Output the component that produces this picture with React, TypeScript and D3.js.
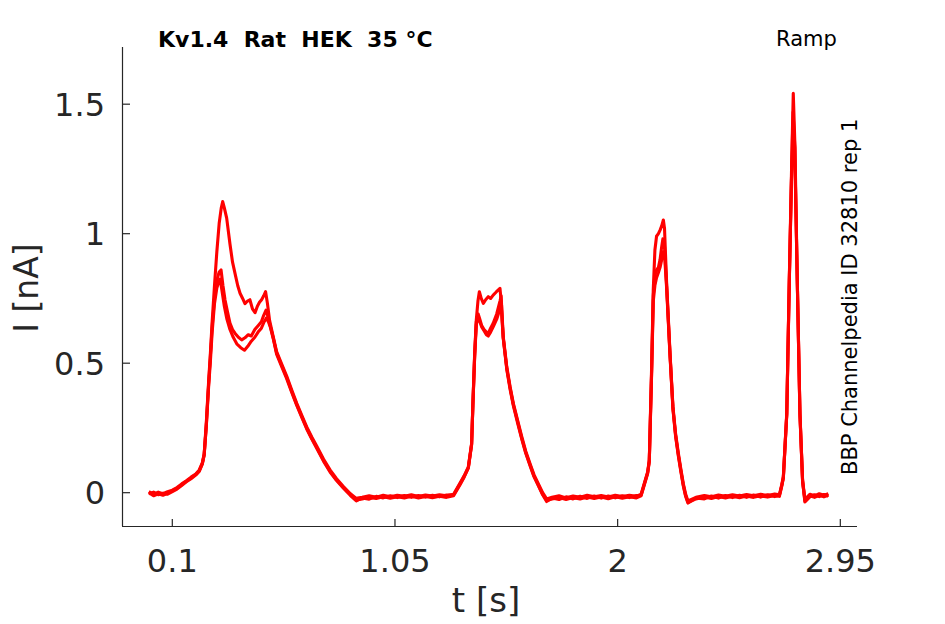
import React from "react";
import * as d3 from "d3";

type Pt = [number, number];

const xTicks = [0.1, 1.05, 2, 2.95];
const xTickLabels = ["0.1", "1.05", "2", "2.95"];
const yTicks = [0, 0.5, 1, 1.5];
const yTickLabels = ["0", "0.5", "1", "1.5"];

const titleText = "Kv1.4  Rat  HEK  35 °C";
const protocolText = "Ramp";
const sideText = "BBP Channelpedia ID 32810 rep 1";
const xLabel = "t [s]";
const yLabel = "I [nA]";

// sweep 1 (largest first peak)
const traceA: Pt[] = [
  [0.0, 0.004], [0.02, -0.006], [0.04, 0.002], [0.06, -0.004], [0.08, 0.004], [0.1, 0.01],
  [0.12, 0.02], [0.14, 0.034], [0.16, 0.046], [0.18, 0.06], [0.2, 0.072], [0.215, 0.088],
  [0.228, 0.115], [0.236, 0.15], [0.245, 0.27], [0.255, 0.43], [0.262, 0.53], [0.27, 0.66],
  [0.28, 0.8], [0.29, 0.93], [0.3, 1.04], [0.309, 1.1], [0.315, 1.124], [0.322, 1.1],
  [0.332, 1.06], [0.346, 0.96], [0.357, 0.89], [0.368, 0.845], [0.379, 0.8], [0.389, 0.77],
  [0.4, 0.75], [0.41, 0.73], [0.421, 0.74], [0.431, 0.745], [0.442, 0.71], [0.453, 0.695],
  [0.463, 0.72], [0.472, 0.735], [0.481, 0.745], [0.49, 0.76], [0.498, 0.776], [0.506, 0.73],
  [0.515, 0.665], [0.53, 0.605], [0.545, 0.545], [0.565, 0.5], [0.588, 0.45], [0.61, 0.395],
  [0.631, 0.345], [0.652, 0.3], [0.673, 0.255], [0.695, 0.215], [0.716, 0.18], [0.745, 0.13],
  [0.773, 0.088], [0.8, 0.055], [0.83, 0.024], [0.86, -0.004], [0.885, -0.022], [0.91, -0.018],
  [0.94, -0.012], [0.97, -0.018], [1.0, -0.01], [1.03, -0.016], [1.06, -0.01], [1.09, -0.014],
  [1.12, -0.008], [1.15, -0.015], [1.18, -0.009], [1.21, -0.013], [1.24, -0.008], [1.27, -0.012],
  [1.3, -0.006], [1.327, 0.036], [1.345, 0.065], [1.363, 0.1], [1.377, 0.19], [1.3825, 0.345],
  [1.39, 0.538], [1.397, 0.667], [1.404, 0.74], [1.41, 0.776], [1.418, 0.75], [1.427, 0.731],
  [1.437, 0.745], [1.448, 0.757], [1.458, 0.75], [1.469, 0.763], [1.482, 0.775], [1.498, 0.789],
  [1.505, 0.72], [1.512, 0.602], [1.527, 0.486], [1.541, 0.41], [1.555, 0.345], [1.573, 0.28],
  [1.591, 0.216], [1.608, 0.16], [1.626, 0.113], [1.643, 0.07], [1.661, 0.036], [1.68, 0.0],
  [1.697, -0.024], [1.72, -0.018], [1.75, -0.012], [1.78, -0.02], [1.81, -0.013], [1.84, -0.018],
  [1.87, -0.01], [1.9, -0.016], [1.93, -0.011], [1.96, -0.017], [1.99, -0.01], [2.02, -0.015],
  [2.05, -0.01], [2.08, -0.014], [2.1, -0.006], [2.118, 0.049], [2.128, 0.08], [2.135, 0.126],
  [2.145, 0.486], [2.152, 0.783], [2.159, 0.937], [2.166, 0.99], [2.174, 1.0], [2.181, 1.014],
  [2.188, 1.03], [2.195, 1.053], [2.2, 1.02], [2.209, 0.808], [2.2235, 0.538], [2.236, 0.332],
  [2.247, 0.23], [2.259, 0.152], [2.27, 0.09], [2.28, 0.036], [2.29, -0.005], [2.3, -0.032],
  [2.334, -0.018], [2.37, -0.011], [2.4, -0.016], [2.43, -0.009], [2.46, -0.014], [2.49, -0.008],
  [2.52, -0.013], [2.55, -0.007], [2.58, -0.012], [2.61, -0.006], [2.64, -0.011], [2.67, -0.005],
  [2.69, -0.008], [2.7, 0.03], [2.707, 0.062], [2.7215, 0.307], [2.7323, 0.821], [2.7425, 1.272],
  [2.7493, 1.542], [2.7565, 1.336], [2.7664, 0.821], [2.7778, 0.307], [2.789, 0.049], [2.799, -0.026],
  [2.82, -0.006], [2.84, -0.012], [2.86, -0.004], [2.88, -0.01], [2.899, -0.004],
];

// sweep 2
const traceB: Pt[] = [
  [0.0, -0.004], [0.02, 0.002], [0.04, -0.008], [0.06, -0.002], [0.08, -0.006], [0.1, 0.004],
  [0.12, 0.014], [0.14, 0.028], [0.16, 0.042], [0.18, 0.054], [0.2, 0.068], [0.215, 0.082],
  [0.228, 0.11], [0.236, 0.145], [0.245, 0.26], [0.255, 0.42], [0.262, 0.52], [0.27, 0.64],
  [0.28, 0.75], [0.29, 0.82], [0.3, 0.852], [0.308, 0.86], [0.316, 0.8], [0.325, 0.744],
  [0.335, 0.7], [0.346, 0.655], [0.357, 0.63], [0.368, 0.615], [0.382, 0.6], [0.396, 0.59],
  [0.41, 0.598], [0.424, 0.61], [0.437, 0.605], [0.452, 0.63], [0.466, 0.645], [0.48, 0.66],
  [0.49, 0.685], [0.5, 0.705], [0.508, 0.68], [0.515, 0.655], [0.53, 0.6], [0.545, 0.54],
  [0.565, 0.495], [0.588, 0.445], [0.61, 0.39], [0.631, 0.34], [0.652, 0.295], [0.673, 0.25],
  [0.695, 0.21], [0.716, 0.175], [0.745, 0.125], [0.773, 0.083], [0.8, 0.05], [0.83, 0.02],
  [0.86, -0.008], [0.885, -0.028], [0.91, -0.024], [0.94, -0.018], [0.97, -0.022], [1.0, -0.016],
  [1.03, -0.021], [1.06, -0.016], [1.09, -0.02], [1.12, -0.014], [1.15, -0.02], [1.18, -0.015],
  [1.21, -0.019], [1.24, -0.014], [1.27, -0.018], [1.3, -0.012], [1.327, 0.03], [1.345, 0.06],
  [1.363, 0.095], [1.377, 0.185], [1.3825, 0.34], [1.39, 0.53], [1.397, 0.66], [1.405, 0.69],
  [1.412, 0.67], [1.42, 0.645], [1.43, 0.63], [1.44, 0.62], [1.448, 0.615], [1.458, 0.635],
  [1.469, 0.654], [1.484, 0.69], [1.498, 0.74], [1.503, 0.76], [1.508, 0.66], [1.512, 0.598],
  [1.527, 0.48], [1.541, 0.405], [1.555, 0.34], [1.573, 0.275], [1.591, 0.21], [1.608, 0.155],
  [1.626, 0.108], [1.643, 0.065], [1.661, 0.03], [1.68, -0.006], [1.697, -0.03], [1.72, -0.024],
  [1.75, -0.019], [1.78, -0.026], [1.81, -0.019], [1.84, -0.024], [1.87, -0.017], [1.9, -0.022],
  [1.93, -0.017], [1.96, -0.023], [1.99, -0.016], [2.02, -0.021], [2.05, -0.016], [2.08, -0.02],
  [2.1, -0.012], [2.118, 0.043], [2.128, 0.074], [2.135, 0.12], [2.145, 0.47], [2.152, 0.76],
  [2.159, 0.84], [2.166, 0.86], [2.174, 0.87], [2.181, 0.9], [2.188, 0.95], [2.193, 0.98],
  [2.2, 0.95], [2.209, 0.8], [2.2235, 0.532], [2.236, 0.326], [2.247, 0.224], [2.259, 0.146],
  [2.27, 0.084], [2.28, 0.03], [2.29, -0.011], [2.3, -0.038], [2.334, -0.024], [2.37, -0.017],
  [2.4, -0.022], [2.43, -0.015], [2.46, -0.02], [2.49, -0.014], [2.52, -0.019], [2.55, -0.013],
  [2.58, -0.018], [2.61, -0.012], [2.64, -0.017], [2.67, -0.011], [2.69, -0.014], [2.7, 0.024],
  [2.707, 0.056], [2.7215, 0.3], [2.7323, 0.81], [2.7425, 1.25], [2.7485, 1.47], [2.7555, 1.34],
  [2.7664, 0.815], [2.7778, 0.3], [2.789, 0.043], [2.799, -0.032], [2.82, -0.012], [2.84, -0.018],
  [2.86, -0.01], [2.88, -0.016], [2.899, -0.01],
];

// sweep 3
const traceC: Pt[] = [
  [0.0, 0.0], [0.02, -0.012], [0.04, -0.004], [0.06, -0.01], [0.08, -0.002], [0.1, 0.007],
  [0.12, 0.017], [0.14, 0.031], [0.16, 0.044], [0.18, 0.057], [0.2, 0.07], [0.215, 0.085],
  [0.228, 0.112], [0.236, 0.147], [0.245, 0.255], [0.255, 0.41], [0.262, 0.5], [0.27, 0.62],
  [0.28, 0.73], [0.29, 0.79], [0.298, 0.815], [0.304, 0.825], [0.312, 0.78], [0.322, 0.72],
  [0.333, 0.67], [0.346, 0.63], [0.36, 0.6], [0.375, 0.575], [0.392, 0.56], [0.408, 0.55],
  [0.422, 0.565], [0.437, 0.585], [0.452, 0.6], [0.466, 0.62], [0.48, 0.635], [0.492, 0.66],
  [0.502, 0.675], [0.51, 0.66], [0.518, 0.64], [0.532, 0.59], [0.545, 0.535], [0.565, 0.49],
  [0.588, 0.44], [0.61, 0.386], [0.631, 0.337], [0.652, 0.292], [0.673, 0.247], [0.695, 0.207],
  [0.716, 0.172], [0.745, 0.122], [0.773, 0.08], [0.8, 0.048], [0.83, 0.017], [0.86, -0.011],
  [0.885, -0.032], [0.91, -0.02], [0.94, -0.025], [0.97, -0.014], [1.0, -0.02], [1.03, -0.012],
  [1.06, -0.019], [1.09, -0.011], [1.12, -0.018], [1.15, -0.011], [1.18, -0.017], [1.21, -0.01],
  [1.24, -0.016], [1.27, -0.009], [1.3, -0.009], [1.327, 0.033], [1.345, 0.062], [1.363, 0.097],
  [1.377, 0.187], [1.3825, 0.34], [1.39, 0.525], [1.397, 0.65], [1.405, 0.68], [1.412, 0.66],
  [1.42, 0.64], [1.43, 0.625], [1.44, 0.61], [1.448, 0.605], [1.458, 0.62], [1.469, 0.64],
  [1.484, 0.67], [1.498, 0.71], [1.503, 0.73], [1.508, 0.65], [1.512, 0.595], [1.527, 0.476],
  [1.541, 0.4], [1.555, 0.336], [1.573, 0.27], [1.591, 0.207], [1.608, 0.152], [1.626, 0.105],
  [1.643, 0.062], [1.661, 0.028], [1.68, -0.008], [1.697, -0.034], [1.72, -0.02], [1.75, -0.026],
  [1.78, -0.016], [1.81, -0.024], [1.84, -0.014], [1.87, -0.022], [1.9, -0.013], [1.93, -0.021],
  [1.96, -0.013], [1.99, -0.02], [2.02, -0.012], [2.05, -0.019], [2.08, -0.011], [2.1, -0.01],
  [2.118, 0.046], [2.128, 0.077], [2.135, 0.122], [2.145, 0.46], [2.152, 0.74], [2.159, 0.8],
  [2.166, 0.83], [2.174, 0.85], [2.181, 0.87], [2.188, 0.9], [2.194, 0.93], [2.2, 0.92],
  [2.209, 0.79], [2.2235, 0.528], [2.236, 0.322], [2.247, 0.22], [2.259, 0.142], [2.27, 0.08],
  [2.28, 0.027], [2.29, -0.014], [2.3, -0.04], [2.334, -0.02], [2.37, -0.024], [2.4, -0.013],
  [2.43, -0.021], [2.46, -0.011], [2.49, -0.019], [2.52, -0.01], [2.55, -0.018], [2.58, -0.009],
  [2.61, -0.017], [2.64, -0.008], [2.67, -0.015], [2.69, -0.011], [2.7, 0.027], [2.707, 0.059],
  [2.7215, 0.303], [2.7323, 0.815], [2.7425, 1.24], [2.7495, 1.4], [2.7555, 1.33], [2.7664, 0.818],
  [2.7778, 0.303], [2.789, 0.046], [2.799, -0.036], [2.82, -0.016], [2.84, -0.008], [2.86, -0.015],
  [2.88, -0.007], [2.899, -0.013],
];

const traces = [traceA, traceB, traceC];

const W = 945;
const H = 624;
const FONT = "'DejaVu Sans', sans-serif";
const INK = "#262626";

export default function App() {
  const x = d3.scaleLinear().domain([-0.1146, 3.0212]).range([122, 857]);
  const y = d3.scaleLinear().domain([-0.1286, 1.7208]).range([526, 47]);
  const line = d3
    .line<Pt>()
    .x((d) => x(d[0]))
    .y((d) => y(d[1]))
    .curve(d3.curveLinear);

  const [x0, x1] = x.range();
  const [yb, yt] = y.range();

  return (
    <svg
      width={W}
      height={H}
      style={{ position: "absolute", left: 0, top: 0, background: "#fff" }}
      fontFamily={FONT}
    >
      <rect width={W} height={H} fill="#fff" />
      <defs>
        <clipPath id="plotclip">
          <rect x={x0} y={yt} width={x1 - x0} height={yb - yt} />
        </clipPath>
      </defs>
      <g clipPath="url(#plotclip)">
        {traces.map((t, i) => (
          <path
            key={i}
            d={line(t) || ""}
            fill="none"
            stroke="#ff0000"
            strokeWidth={3.1}
            strokeLinejoin="round"
          />
        ))}
      </g>

      {/* axes */}
      <line x1={x0} x2={x1} y1={yb + 0.5} y2={yb + 0.5} stroke={INK} strokeWidth={1.2} />
      <line x1={x0 + 0.5} x2={x0 + 0.5} y1={yt} y2={yb} stroke={INK} strokeWidth={1.2} />

      {xTicks.map((v, i) => (
        <g key={"xt" + i}>
          <line x1={x(v)} x2={x(v)} y1={yb} y2={yb - 7} stroke={INK} strokeWidth={1.2} />
          <text x={x(v)} y={572} textAnchor="middle" fontSize={32} fill={INK}>
            {xTickLabels[i]}
          </text>
        </g>
      ))}
      {yTicks.map((v, i) => (
        <g key={"yt" + i}>
          <line x1={x0} x2={x0 + 8} y1={y(v)} y2={y(v)} stroke={INK} strokeWidth={1.2} />
          <text x={105} y={y(v) + 11.5} textAnchor="end" fontSize={32} fill={INK}>
            {yTickLabels[i]}
          </text>
        </g>
      ))}

      <text x={486} y={612} textAnchor="middle" fontSize={34} fill={INK}>
        {xLabel}
      </text>
      <text
        transform={`translate(38,288) rotate(-90)`}
        textAnchor="middle"
        fontSize={33}
        fill={INK}
      >
        {yLabel}
      </text>

      <text x={158} y={47} fontSize={22} fontWeight="bold" fill="#000" style={{ whiteSpace: "pre" }}>
        {titleText}
      </text>
      <text x={776} y={46} fontSize={21} fill="#000">
        {protocolText}
      </text>
      <text transform={`translate(857,475) rotate(-90)`} fontSize={21} fill="#000">
        {sideText}
      </text>
    </svg>
  );
}
